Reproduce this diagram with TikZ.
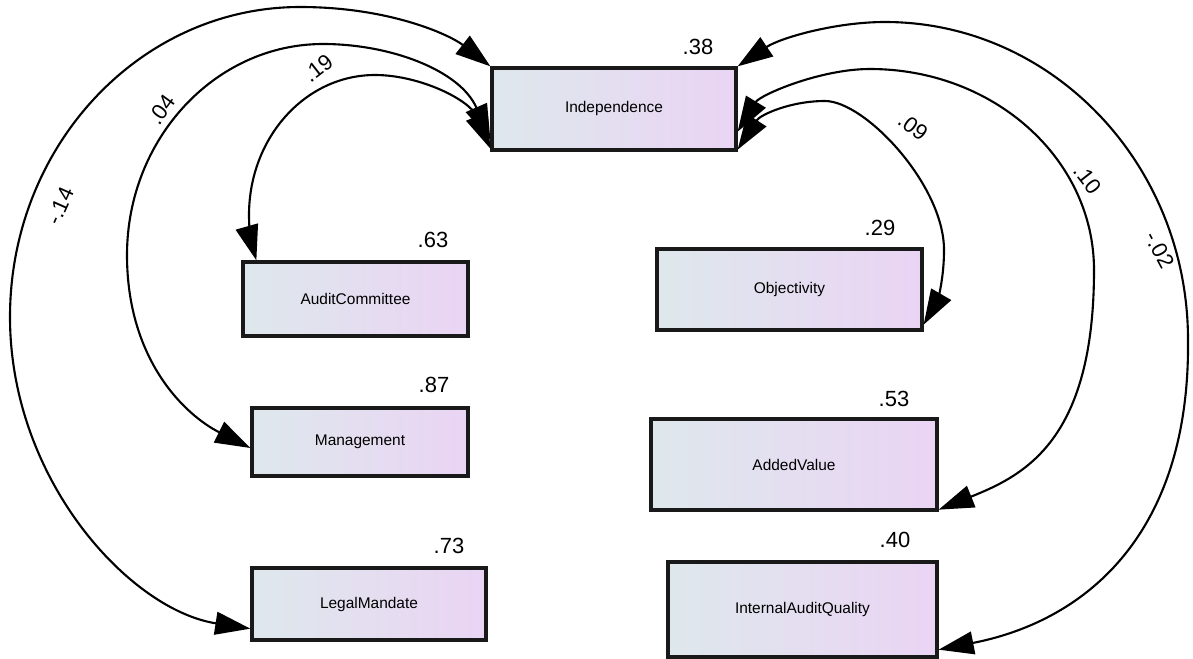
\documentclass[tikz,border=0pt]{standalone}
\usepackage{fontspec}
\setmainfont{Liberation Sans}
\usetikzlibrary{arrows.meta,calc}
\definecolor{boxleft}{RGB}{222,232,236}
\definecolor{boxright}{RGB}{234,212,244}
\begin{document}
\begin{tikzpicture}[x=0.02cm,y=-0.02cm,
  var/.style={draw=black!90, line width=1.9pt, left color=boxleft, right color=boxright,
    font=\fontsize{8.8}{10}\selectfont, inner sep=0pt},
  rsq/.style={font=\fontsize{12.5}{14}\selectfont, inner sep=0pt},
  corr/.style={font=\fontsize{12.5}{14}\selectfont, inner sep=0pt},
  cov/.style={draw=black, line width=1.2pt,
    {Triangle[length=20pt,width=13pt]}-{Triangle[length=20pt,width=13pt]}}]
\useasboundingbox (0,0) rectangle (1193,659);

% observed variables
\node[var, minimum width=4.88cm, minimum height=1.64cm] (ind) at (614,109) {Independence};
\node[var, minimum width=4.50cm, minimum height=1.48cm] (ac)  at (355.5,299) {AuditCommittee};
\node[var, minimum width=5.30cm, minimum height=1.62cm] (obj) at (789.5,289.5) {Objectivity};
\node[var, minimum width=4.32cm, minimum height=1.36cm] (mg)  at (360,442) {Management};
\node[var, minimum width=5.72cm, minimum height=1.82cm] (av)  at (794,464.5) {AddedValue};
\node[var, minimum width=4.68cm, minimum height=1.44cm] (lm)  at (369,604) {LegalMandate};
\node[var, minimum width=5.38cm, minimum height=1.90cm] (iaq) at (802.5,609.5) {InternalAuditQuality};

% squared multiple correlations
\node[rsq] (r-ind) at (698,47)  {.38};
\node[rsq] (r-ac)  at (433,240) {.63};
\node[rsq] (r-obj) at (880,228) {.29};
\node[rsq] (r-mg)  at (434,385) {.87};
\node[rsq] (r-av)  at (894,399) {.53};
\node[rsq] (r-lm)  at (449,546) {.73};
\node[rsq] (r-iaq) at (895,540) {.40};

% covariances on the left
\draw[cov] (ind.north west) .. controls (450,35) and (390,7) .. (300,7)
  .. controls (140,7) and (10,146) .. (10,317)
  .. controls (10,480) and (130,610) .. ($(lm.south west)+(0,-13)$);
\draw[cov] ($(ind.south west)+(0,-12)$) .. controls (460,70) and (390,44) .. (323,44)
  .. controls (215,44) and (127,139) .. (127,255)
  .. controls (127,360) and (185,415) .. ($(mg.west)+(0,6)$);
\draw[cov] ($(ind.south west)+(0,-3)$) .. controls (470,100) and (420,75) .. (375,75)
  .. controls (305,75) and (249,138) .. (249,215)
  .. controls (249,240) and (254,252) .. ($(ac.north west)+(15,0)$);

% covariances on the right
\draw[cov] ($(ind.south east)+(0,-2)$) .. controls (760,115) and (790,101) .. (825,101)
  .. controls (865,101) and (944,185) .. (944,250)
  .. controls (944,285) and (935,305) .. ($(obj.south east)+(0,-7)$);
\draw[cov] ($(ind.south east)+(0,-20)$) .. controls (760,95) and (820,69) .. (870,69)
  .. controls (994,69) and (1094,159) .. (1094,270)
  .. controls (1094,440) and (1025,475) .. ($(av.south east)+(0,-2)$);
\draw[cov] (ind.north east) .. controls (780,38) and (835,22) .. (885,22)
  .. controls (1052,22) and (1188,164) .. (1188,340)
  .. controls (1190,530) and (1090,620) .. ($(iaq.south east)+(0,-9)$);

% covariance estimates
\node[corr, rotate=38]  (c-ac)  at (318,68)   {.19};
\node[corr, rotate=54]  (c-mg)  at (162,110)  {.04};
\node[corr, rotate=66]  (c-lm)  at (60,206)   {-.14};
\node[corr, rotate=-37] (c-obj) at (913,127)  {.09};
\node[corr, rotate=-52] (c-av)  at (1088,179) {.10};
\node[corr, rotate=-62] (c-iaq) at (1160,250) {-.02};
\end{tikzpicture}
\end{document}
